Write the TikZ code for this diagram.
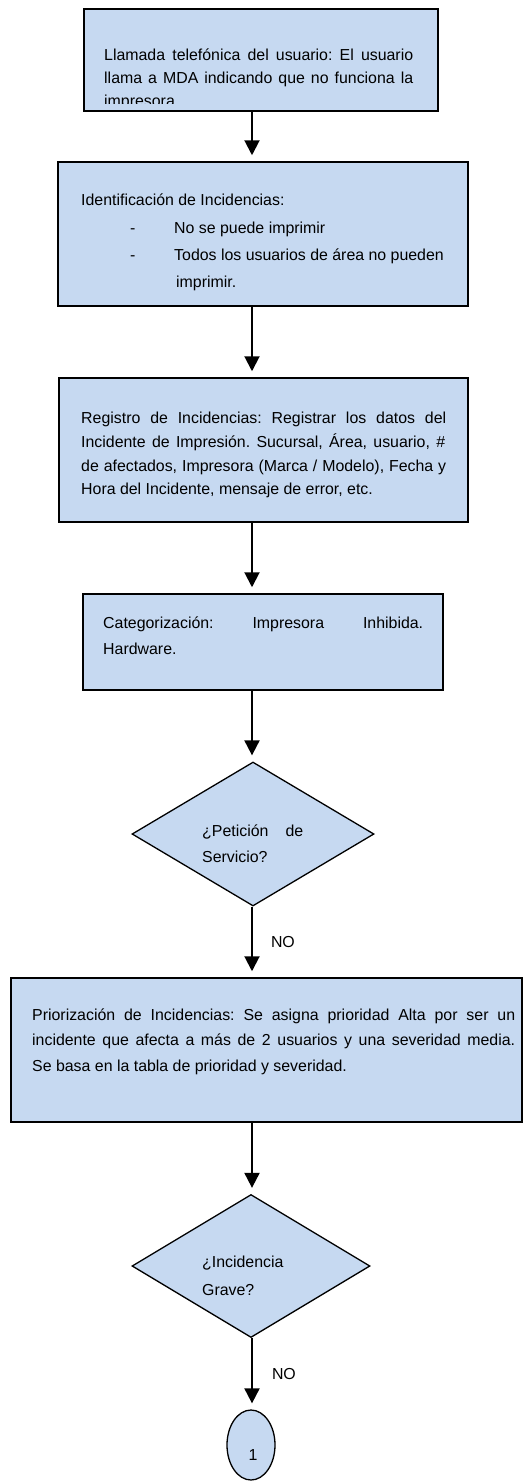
\documentclass[tikz,border=0pt]{standalone}
\usepackage{fontspec}
\setmainfont{Liberation Sans}
\usetikzlibrary{arrows.meta,shapes.geometric}
\definecolor{boxblue}{RGB}{198,217,241}
\frenchspacing

\begin{document}
\begin{tikzpicture}[x=1pt,y=-1pt,
  flowbox/.style={draw=black, line width=1.5pt, fill=boxblue, inner sep=0pt},
  decision/.style={diamond, draw=black, line width=1.3pt, fill=boxblue, inner sep=0pt},
  connector/.style={ellipse, draw=black, line width=1.3pt, fill=boxblue, inner sep=0pt},
  txt/.style={anchor=base west, inner sep=0pt, font=\fontsize{15.9}{18}\selectfont},
  flow/.style={line width=2pt, -{Triangle[length=15pt,width=15pt]}, shorten >=6pt},
]
\useasboundingbox (0,0) rectangle (523,1481);
\coordinate (axis) at (252,0);

% process boxes, decisions and the off-page connector
\node[flowbox, minimum width=354pt, minimum height=102pt] (b1) at (261,60) {};
\node[flowbox, minimum width=410pt, minimum height=144pt] (b2) at (263,234) {};
\node[flowbox, minimum width=409pt, minimum height=144pt] (b3) at (263.5,450) {};
\node[flowbox, minimum width=360pt, minimum height=96pt] (b4) at (263,642) {};
\node[decision, minimum width=242pt, minimum height=144pt] (d1) at (253,834) {};
\node[flowbox, minimum width=511pt, minimum height=144pt] (b5) at (266.5,1050) {};
\node[decision, minimum width=238pt, minimum height=143pt] (d2) at (251,1266) {};
\node[connector, minimum width=48pt, minimum height=70pt] (c1) at (251,1445) {};

% box 1 text, cut off by the text frame
\begin{scope}
  \clip (84,9) rectangle (438,103);
  \node[txt] (t1a) at (104,60) {\makebox[309pt][s]{Llamada telefónica del usuario: El usuario}};
  \node[txt] (t1b) at (104,83) {\makebox[309pt][s]{llama a MDA indicando que no funciona la}};
  \node[txt] (t1c) at (104,106) {impresora};
\end{scope}

% box 2 text
\node[txt] (t2a) at (81,205) {Identificación de Incidencias:};
\node[txt] (t2b) at (130,233) {-};
\node[txt] (t2c) at (174,233) {No se puede imprimir};
\node[txt] (t2d) at (130,260) {-};
\node[txt] (t2e) at (174,260) {Todos los usuarios de área no pueden};
\node[txt] (t2f) at (176,287) {imprimir.};

% box 3 text
\node[txt] (t3a) at (81,423) {\makebox[365pt][s]{Registro de Incidencias: Registrar los datos del}};
\node[txt] (t3b) at (81,447) {\makebox[364pt][s]{Incidente de Impresión. Sucursal, Área, usuario, \#}};
\node[txt] (t3c) at (81,471) {\makebox[365pt][s]{de afectados, Impresora (Marca / Modelo), Fecha y}};
\node[txt] (t3d) at (81,494) {Hora del Incidente, mensaje de error, etc.};

% box 4 text
\node[txt] (t4a) at (103,628) {\makebox[320pt][s]{Categorización: Impresora Inhibida.}};
\node[txt] (t4b) at (103,654) {Hardware.};

% decision 1 text
\node[txt] (t5a) at (202,836) {\makebox[101pt][s]{¿Petición de}};
\node[txt] (t5b) at (202,862) {Servicio?};

% box 5 text
\node[txt] (t6a) at (32,1020) {\makebox[483pt][s]{Priorización de Incidencias: Se asigna prioridad Alta por ser un}};
\node[txt] (t6b) at (32,1045.5) {\makebox[483pt][s]{incidente que afecta a más de 2 usuarios y una severidad media.}};
\node[txt] (t6c) at (32,1071) {Se basa en la tabla de prioridad y severidad.};

% decision 2 text
\node[txt] (t7a) at (202,1267) {¿Incidencia};
\node[txt] (t7b) at (202,1295) {Grave?};

% connector label
\node[txt, anchor=base] (t8) at (253,1460) {1};

% flow arrows
\draw[flow] (b1.south -| axis) -- (b2.north -| axis);
\draw[flow] (b2.south -| axis) -- (b3.north -| axis);
\draw[flow] (b3.south -| axis) -- (b4.north -| axis);
\draw[flow] (b4.south -| axis) -- (d1.north -| axis);
\draw[flow] (d1.south -| axis) -- (b5.north -| axis)
  node[txt, pos=0.5, anchor=west, xshift=18pt] (no1) {NO};
\draw[flow] (b5.south -| axis) -- (d2.north -| axis);
\draw[flow] (d2.south -| axis) -- (c1.north -| axis)
  node[txt, pos=0.5, anchor=west, xshift=19pt] (no2) {NO};
\end{tikzpicture}
\end{document}
